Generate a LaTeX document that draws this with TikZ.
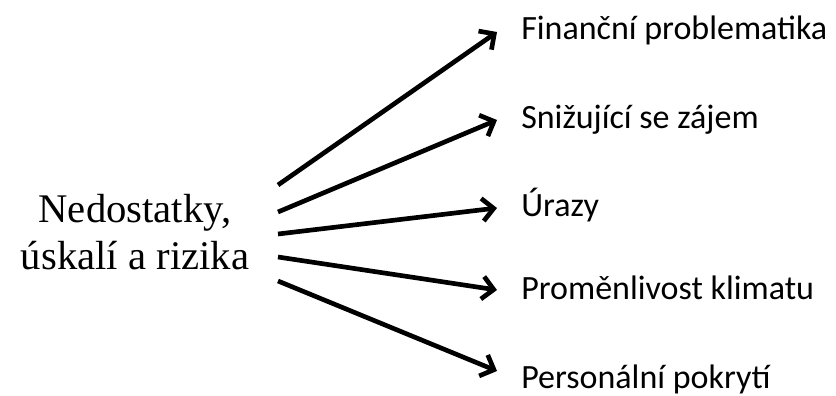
\documentclass[tikz,border=0pt]{standalone}
\usepackage{fontspec}
\setmainfont{Liberation Serif}
\newfontfamily\itemfont{Carlito}
\usetikzlibrary{arrows.meta}

\begin{document}
\begin{tikzpicture}[x=0.75pt,y=0.75pt,yscale=-1,xscale=1,
  arr/.style={line width=3.5pt,-{Straight Barb[length=8.5pt,width=17pt]}},
  item/.style={anchor=base west,inner sep=0pt,font=\itemfont\fontsize{25.5}{30}\selectfont}]
\useasboundingbox (0,0) rectangle (836,396);

% Text Node
\node [align=center,inner sep=0pt,font=\fontsize{30.5}{35.5}\selectfont] (risk) at (135,232) {Nedostatky,\\úskalí a rizika};

% Text Node
\node [item] (fin) at (521,40) {Finanční problematika};
% Text Node
\node [item] (zajem) at (521,128) {Snižující se zájem};
% Text Node
\node [item] (urazy) at (521,216) {Úrazy};
% Text Node
\node [item] (klima) at (521,299) {Proměnlivost klimatu};
% Text Node
\node [item] (pokryti) at (521,388) {Personální pokrytí};

% Start points
\coordinate (s1) at (278,185);
\coordinate (s2) at (278,212);
\coordinate (s3) at (278,234);
\coordinate (s4) at (278,257);
\coordinate (s5) at (278,281);
% Tips
\coordinate (t1) at (497,32);
\coordinate (t2) at (497,120);
\coordinate (t3) at (497,208);
\coordinate (t4) at (497,290);
\coordinate (t5) at (497,371);

% Arrows
\draw [arr] (s1) -- (t1);
\draw [arr] (s2) -- (t2);
\draw [arr] (s3) -- (t3);
\draw [arr] (s4) -- (t4);
\draw [arr] (s5) -- (t5);

\end{tikzpicture}
\end{document}
